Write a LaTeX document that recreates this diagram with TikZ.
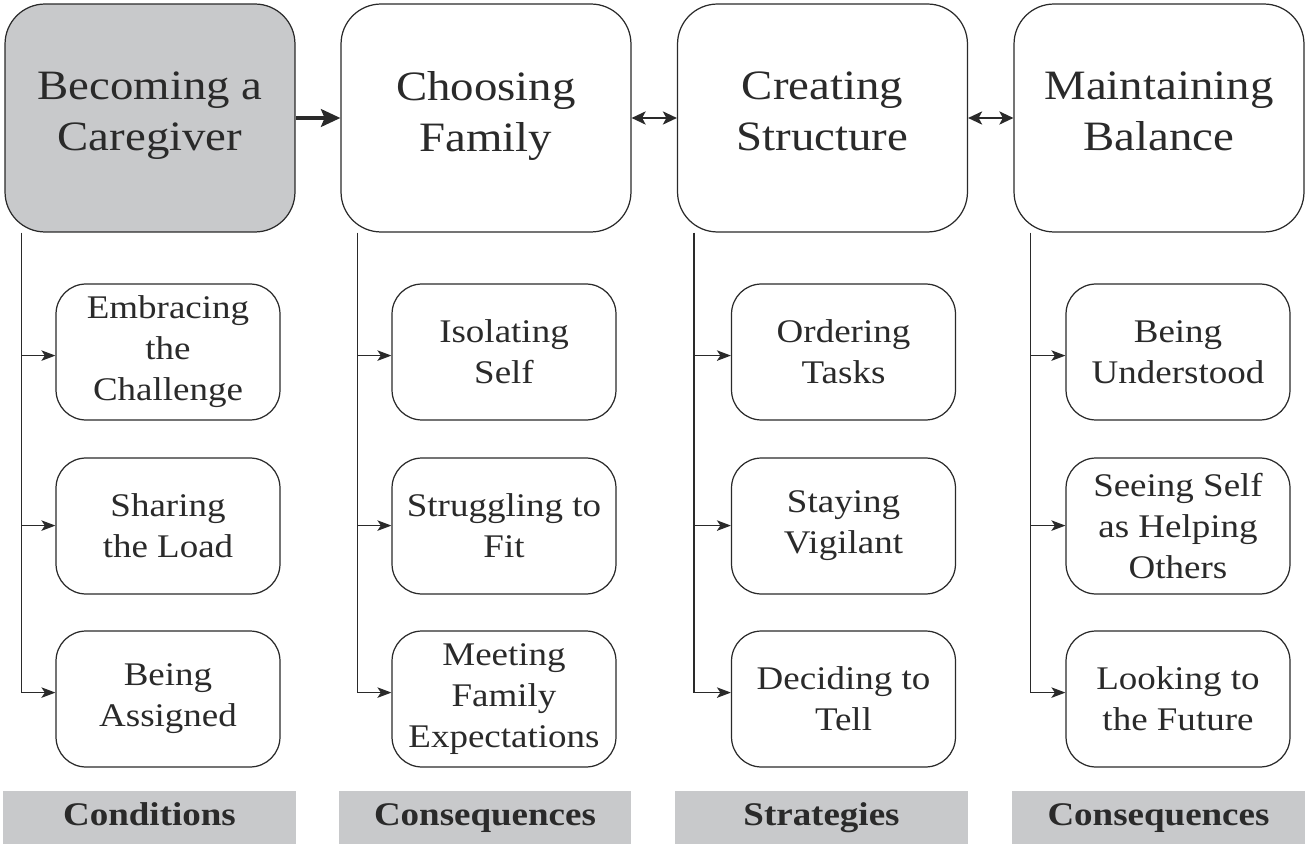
\documentclass[tikz,border=0pt]{standalone}
\usepackage{fontspec}
\setmainfont[FakeStretch=1.12]{Liberation Serif}
\usetikzlibrary{arrows.meta,calc}
\definecolor{boxgray}{HTML}{C8C9CB}
\definecolor{ink}{HTML}{2A2A2A}
\newcommand\lastdp{\rule[-7.5pt]{0pt}{7.5pt}}
\tikzset{
  topbox/.style={draw=ink, line width=0.7pt, rounded corners=0.8cm, minimum width=5.8cm, minimum height=4.56cm, align=center, text=ink, font=\fontsize{23.8}{28.8}\selectfont},
  subbox/.style={draw=ink, line width=0.7pt, rounded corners=0.6cm, minimum width=4.48cm, minimum height=2.72cm, align=center, text=ink, font=\fontsize{18.8}{23.3}\selectfont},
  barbox/.style={fill=boxgray, inner sep=0pt, minimum width=5.86cm, minimum height=1.06cm, text height=13pt, text depth=4pt, text=ink, font=\fontsize{18.8}{22}\selectfont\bfseries},
  trunk/.style={draw=ink, line width=0.7pt},
  sarrow/.style={draw=ink, line width=0.7pt, -{Stealth[length=8pt,width=6pt,inset=2pt]}},
  bigarrow/.style={draw=ink, line width=2.3pt, -{Stealth[length=11pt,width=10pt,inset=2pt]}},
  dblarrow/.style={draw=ink, line width=1.1pt, {Stealth[length=8pt,width=7.5pt,inset=2pt]}-{Stealth[length=8pt,width=7.5pt,inset=2pt]}}
}
\begin{document}
\begin{tikzpicture}[x=0.02cm, y=-0.02cm]
\useasboundingbox (0,0) rectangle (1305,844);
% top boxes
\node[topbox, fill=boxgray] (t1) at (150,118) {Becoming a\\Caregiver\lastdp};
\node[topbox] (t2) at (486,118) {Choosing\\Family\lastdp};
\node[topbox] (t3) at (822.5,118) {Creating\\Structure\lastdp};
\node[topbox] (t4) at (1159,118) {Maintaining\\Balance\lastdp};
% sub boxes
\node[subbox] (s11) at (168,352) {Embracing\\the\\Challenge};
\node[subbox] (s12) at (168,526) {Sharing\\the Load};
\node[subbox] (s13) at (168,699) {Being\\Assigned};
\node[subbox] (s21) at (504,352) {Isolating\\Self};
\node[subbox] (s22) at (504,526) {Struggling to\\Fit};
\node[subbox] (s23) at (504,699) {Meeting\\Family\\Expectations};
\node[subbox] (s31) at (843.5,352) {Ordering\\Tasks};
\node[subbox] (s32) at (843.5,526) {Staying\\Vigilant};
\node[subbox] (s33) at (843.5,699) {Deciding to\\Tell};
\node[subbox] (s41) at (1178,352) {Being\\Understood};
\node[subbox] (s42) at (1178,526) {Seeing Self\\as Helping\\Others};
\node[subbox] (s43) at (1178,699) {Looking to\\the Future};
% bars
\node[barbox] (b1) at (149.5,817.5) {Conditions};
\node[barbox] (b2) at (485,817.5) {Consequences};
\node[barbox] (b3) at (821.5,817.5) {Strategies};
\node[barbox] (b4) at (1158.5,817.5) {Consequences};
% top arrows
\draw[bigarrow] (t1.east) -- (t2.west);
\draw[dblarrow] (t2.east) -- (t3.west);
\draw[dblarrow] (t3.east) -- (t4.west);
% trunks
\foreach \c in {1,2,3,4}{
  \coordinate (k\c) at ($(t\c.south west)+(17,0)$);
  \coordinate (a\c1) at ($(k\c)+(0,123)$);
  \coordinate (a\c2) at ($(k\c)+(0,293)$);
  \coordinate (a\c3) at ($(k\c)+(0,460)$);
  \draw[trunk] (k\c) -- (a\c3);
  \draw[sarrow] (a\c1) -- (a\c1 -| s\c1.west);
  \draw[sarrow] (a\c2) -- (a\c2 -| s\c2.west);
  \draw[sarrow] (a\c3) -- (a\c3 -| s\c3.west);
}
\end{tikzpicture}
\end{document}
